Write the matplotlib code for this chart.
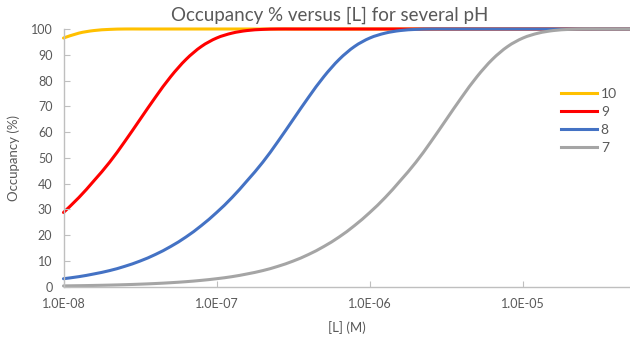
import matplotlib
matplotlib.use("Agg")
import matplotlib.pyplot as plt
import numpy as np
from matplotlib.path import Path
from matplotlib.patches import PathPatch
from matplotlib.lines import Line2D
from matplotlib.ticker import FixedLocator, NullLocator

plt.rcParams["font.family"] = ["Lato", "DejaVu Sans"]

# [L] in M, ten points per decade
conc = [
    1.00e-8, 1.26e-8, 1.58e-8, 2.00e-8, 2.51e-8, 3.16e-8, 3.98e-8, 5.01e-8, 6.31e-8, 7.94e-8,
    1.00e-7, 1.26e-7, 1.58e-7, 2.00e-7, 2.51e-7, 3.16e-7, 3.98e-7, 5.01e-7, 6.31e-7, 7.94e-7,
    1.00e-6, 1.26e-6, 1.58e-6, 2.00e-6, 2.51e-6, 3.16e-6, 3.98e-6, 5.01e-6, 6.31e-6, 7.94e-6,
    1.00e-5, 1.26e-5, 1.58e-5, 2.00e-5, 2.51e-5, 3.16e-5, 3.98e-5, 5.01e-5,
]

# occupancy (%) per pH
occ_ph10 = [
    96.5, 98.4, 99.4, 99.85, 100, 100, 100, 100, 100, 100,
    100, 100, 100, 100, 100, 100, 100, 100, 100, 100,
    100, 100, 100, 100, 100, 100, 100, 100, 100, 100,
    100, 100, 100, 100, 100, 100, 100, 100,
]
occ_ph9 = [
    28.8, 34.6, 41.1, 48.3, 56.3, 64.9, 73.5, 81.5, 88.2, 93.2,
    96.5, 98.4, 99.4, 99.85, 100, 100, 100, 100, 100, 100,
    100, 100, 100, 100, 100, 100, 100, 100, 100, 100,
    100, 100, 100, 100, 100, 100, 100, 100,
]
occ_ph8 = [
    3.1, 3.9, 4.95, 6.25, 7.9, 9.95, 12.5, 15.6, 19.3, 23.7,
    28.8, 34.6, 41.1, 48.3, 56.3, 64.9, 73.5, 81.5, 88.2, 93.2,
    96.5, 98.4, 99.4, 99.85, 100, 100, 100, 100, 100, 100,
    100, 100, 100, 100, 100, 100, 100, 100,
]
occ_ph7 = [
    0.31, 0.39, 0.49, 0.62, 0.78, 0.98, 1.23, 1.55, 1.95, 2.46,
    3.1, 3.9, 4.95, 6.25, 7.9, 9.95, 12.5, 15.6, 19.3, 23.7,
    28.8, 34.6, 41.1, 48.3, 56.3, 64.9, 73.5, 81.5, 88.2, 93.2,
    96.5, 98.4, 99.4, 99.85, 100, 100, 100, 100,
]

series = [
    ("10", occ_ph10, "#FFC000"),
    ("9", occ_ph9, "#FF0000"),
    ("8", occ_ph8, "#4472C4"),
    ("7", occ_ph7, "#A5A5A5"),
]

x_ticks = [1e-8, 1e-7, 1e-6, 1e-5]
x_tick_labels = ["1.0E-08", "1.0E-07", "1.0E-06", "1.0E-05"]
y_ticks = [0, 10, 20, 30, 40, 50, 60, 70, 80, 90, 100]

TXT = "#595959"
AXC = "#BFBFBF"
LW = 2.2


def smooth_path(xs, ys):
    # Excel-style smoothed line: Catmull-Rom segments as cubic Beziers,
    # control points worked out in log-x space
    lx = np.log10(np.asarray(xs, float))
    y = np.asarray(ys, float)
    p = np.column_stack([lx, y])
    pp = np.vstack([p[0], p, p[-1]])
    verts = [p[0]]
    codes = [Path.MOVETO]
    for i in range(len(p) - 1):
        p0, p1, p2, p3 = pp[i], pp[i + 1], pp[i + 2], pp[i + 3]
        c1 = p1 + (p2 - p0) / 6
        c2 = p2 - (p3 - p1) / 6
        verts += [c1, c2, p2]
        codes += [Path.CURVE4] * 3
    verts = np.array(verts)
    verts[:, 0] = 10 ** verts[:, 0]
    return Path(verts, codes)


W, H = 630, 341
fig = plt.figure(figsize=(W / 100, H / 100), dpi=100)
ax = fig.add_axes([63.5 / W, 1 - 286.7 / H, (W - 63.5) / W, (286.7 - 29) / H])

handles = []
for name, vals, col in series:
    patch = PathPatch(smooth_path(conc, vals), facecolor="none", edgecolor=col,
                      lw=LW, capstyle="round", joinstyle="round", clip_on=False)
    ax.add_patch(patch)
    handles.append(Line2D([], [], color=col, lw=LW, label=name))

ax.set_xscale("log")
ax.set_xlim(1e-8, 5e-5)
ax.set_ylim(0, 100)
ax.xaxis.set_major_locator(FixedLocator(x_ticks))
ax.xaxis.set_minor_locator(NullLocator())
ax.set_xticklabels(x_tick_labels)
ax.set_yticks(y_ticks)

for s in ("top", "right"):
    ax.spines[s].set_visible(False)
for s in ("left", "bottom"):
    ax.spines[s].set_color(AXC)
    ax.spines[s].set_linewidth(1.0)

ax.tick_params(axis="x", direction="in", length=4, color=AXC, labelcolor=TXT,
               labelsize=9, pad=8)
ax.tick_params(axis="y", direction="in", length=4, color=AXC, labelcolor=TXT,
               labelsize=9, pad=8)

ax.set_title("Occupancy % versus [L] for several pH", color=TXT, fontsize=13.5,
             pad=6, x=0.47)
ax.set_xlabel("[L] (M)", color=TXT, fontsize=9.5, labelpad=8)
ax.set_ylabel("Occupancy (%)", color=TXT, fontsize=9.5, labelpad=8)

ax.legend(handles=handles, loc="upper left", bbox_to_anchor=(548 / W, 1 - 75 / H),
          bbox_transform=fig.transFigure, frameon=False, fontsize=10,
          labelcolor=TXT, handlelength=2.6, handletextpad=0.3,
          labelspacing=0.45)

fig.savefig("out.png", dpi=100)
